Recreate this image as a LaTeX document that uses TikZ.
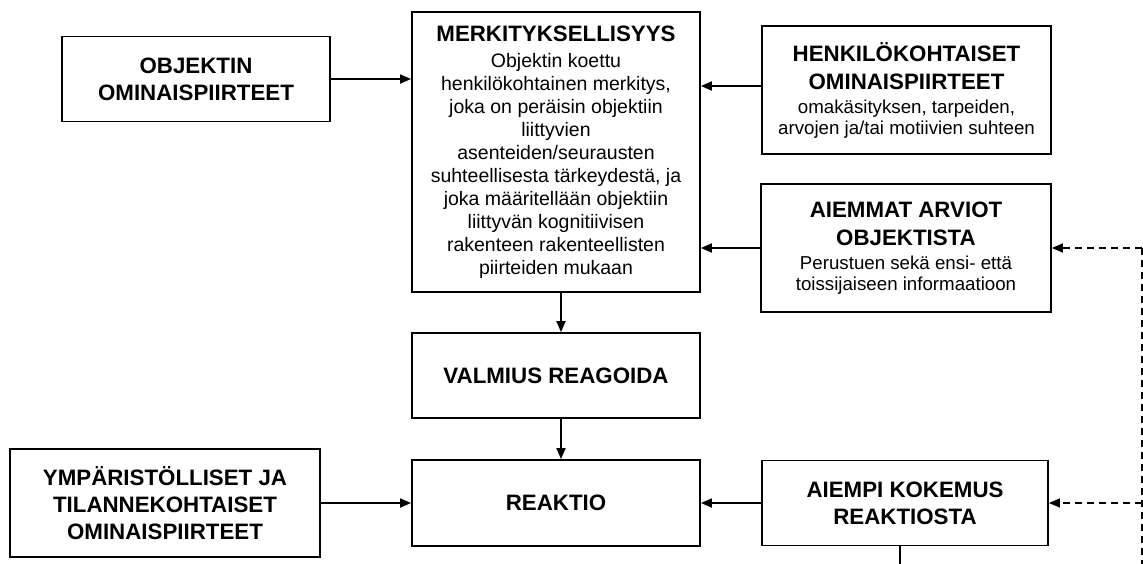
\documentclass[tikz,border=0pt]{standalone}
\usepackage{fontspec}
\setmainfont{Liberation Sans}
\usetikzlibrary{arrows.meta}
\newcommand{\ttlfont}{\fontsize{22.3}{27.3}\selectfont\bfseries}
\newcommand{\bodyfont}{\fontsize{19.5}{22.9}\selectfont}
\newcommand{\subfont}{\fontsize{18.7}{21}\selectfont}

\begin{document}
\begin{tikzpicture}[x=1pt,y=-1pt,
  box/.style={draw, line width=1.8pt, rectangle, inner sep=0pt, align=center, text=black},
  link/.style={line width=1.8pt},
  arr/.style={link, -{Triangle[length=11pt,width=9pt]}},
  fb/.style={line width=1.4pt, dash pattern=on 7pt off 5pt}]

\useasboundingbox (0,0) rectangle (1143,564);

% left column
\node[box, font=\ttlfont, minimum width=268pt, minimum height=85pt] (obj) at (196,79)
  {OBJEKTIN\\OMINAISPIIRTEET};
\node[box, font=\ttlfont, minimum width=310pt, minimum height=108pt] (ymp) at (165,503)
  {YMPÄRISTÖLLISET JA\\TILANNEKOHTAISET\\OMINAISPIIRTEET};

% centre column
\node[box, font=\bodyfont, minimum width=288pt, minimum height=280pt] (merk) at (556,152)
  {{\ttlfont MERKITYKSELLISYYS}\\[3.5pt]
   Objektin koettu\\
   henkilökohtainen merkitys,\\
   joka on peräisin objektiin\\
   liittyvien\\
   asenteiden/seurausten\\
   suhteellisesta tärkeydestä, ja\\
   joka määritellään objektiin\\
   liittyvän kognitiivisen\\
   rakenteen rakenteellisten\\
   piirteiden mukaan};
\node[box, font=\ttlfont, minimum width=288pt, minimum height=85pt] (valm) at (556,375.5)
  {VALMIUS REAGOIDA};
\node[box, font=\ttlfont, minimum width=288pt, minimum height=86pt] (reak) at (556,503)
  {REAKTIO};

% right column
\node[box, font=\subfont, minimum width=289pt, minimum height=128pt] (henk) at (906.5,90)
  {{\ttlfont HENKILÖKOHTAISET}\\[7pt]
   {\ttlfont OMINAISPIIRTEET}\\[3pt]
   omakäsityksen, tarpeiden,\\
   arvojen ja/tai motiivien suhteen};
\node[box, font=\subfont, minimum width=290pt, minimum height=128pt] (aiem) at (906,248)
  {{\ttlfont AIEMMAT ARVIOT}\\[7pt]
   {\ttlfont OBJEKTISTA}\\[3pt]
   Perustuen sekä ensi- että\\
   toissijaiseen informaatioon};
\node[box, font=\ttlfont, minimum width=286pt, minimum height=85pt] (kok) at (905,503)
  {AIEMPI KOKEMUS\\REAKTIOSTA};

% free ends of the feedback loop
\coordinate (fbtop) at (1142,248);
\coordinate (fbmid) at (1142,503);
\coordinate (fbbot) at (1142,564);
\coordinate (kokbot) at (900,564);

% connectors
\draw[arr] (obj.east) -- (obj.east -| merk.west);
\draw[arr] ([yshift=4pt]henk.west) -- ([yshift=4pt]henk.west -| merk.east);
\draw[arr] (aiem.west) -- (aiem.west -| merk.east);
\draw[arr] ([xshift=5pt]merk.south) -- ([xshift=5pt]valm.north);
\draw[arr] ([xshift=5pt]valm.south) -- ([xshift=5pt]reak.north);
\draw[arr] (ymp.east) -- (ymp.east -| reak.west);
\draw[arr] (kok.west) -- (kok.west -| reak.east);
\draw[link] (kok.south -| kokbot) -- (kokbot);

% dashed feedback
\draw[fb] (fbtop) -- (fbbot);
\draw[fb, -{Triangle[length=11pt,width=9pt]}] (fbtop) -- (aiem.east);
\draw[fb, -{Triangle[length=11pt,width=9pt]}] (fbmid) -- (fbmid -| kok.east);
\end{tikzpicture}
\end{document}
